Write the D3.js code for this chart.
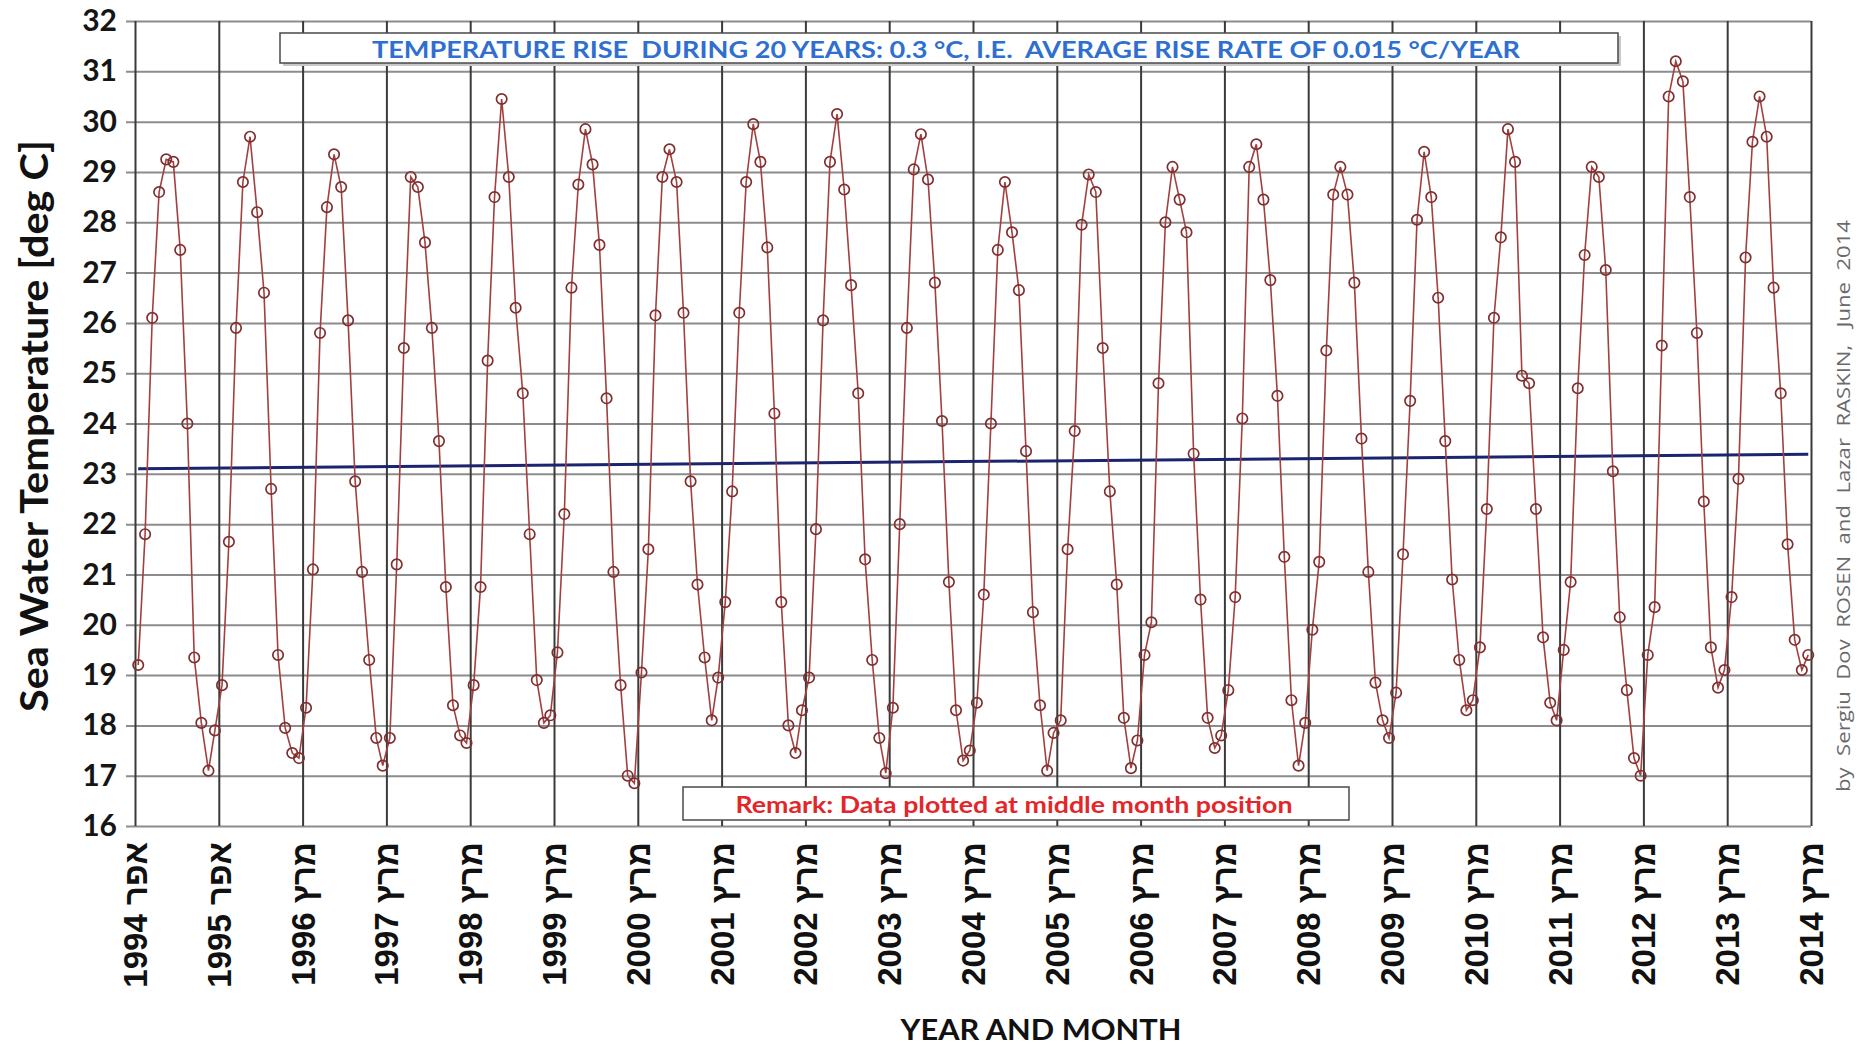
<!DOCTYPE html>
<html>
<head>
<meta charset="utf-8">
<script src="https://cdn.jsdelivr.net/npm/d3@7"></script>
<style>
  body { margin: 0; background: #fff; }
  svg { display: block; }
</style>
</head>
<body>
<svg id="chart" width="1858" height="1045"></svg>
<script>
// monthly sea water temperature, April of the first year to March of the next
const temps1994 = [19.2, 21.8, 26.1, 28.6, 29.25, 29.2, 27.45, 24.0, 19.35, 18.05, 17.1, 17.9]
const temps1995 = [18.8, 21.65, 25.9, 28.8, 29.7, 28.2, 26.6, 22.7, 19.4, 17.95, 17.45, 17.35]
const temps1996 = [18.35, 21.1, 25.8, 28.3, 29.35, 28.7, 26.05, 22.85, 21.05, 19.3, 17.75, 17.2]
const temps1997 = [17.75, 21.2, 25.5, 28.9, 28.7, 27.6, 25.9, 23.65, 20.75, 18.4, 17.8, 17.65]
const temps1998 = [18.8, 20.75, 25.25, 28.5, 30.45, 28.9, 26.3, 24.6, 21.8, 18.9, 18.05, 18.2]
const temps1999 = [19.45, 22.2, 26.7, 28.75, 29.85, 29.15, 27.55, 24.5, 21.05, 18.8, 17.0, 16.85]
const temps2000 = [19.05, 21.5, 26.15, 28.9, 29.45, 28.8, 26.2, 22.85, 20.8, 19.35, 18.1, 18.95]
const temps2001 = [20.45, 22.65, 26.2, 28.8, 29.95, 29.2, 27.5, 24.2, 20.45, 18.0, 17.45, 18.3]
const temps2002 = [18.95, 21.9, 26.05, 29.2, 30.15, 28.65, 26.75, 24.6, 21.3, 19.3, 17.75, 17.05]
const temps2003 = [18.35, 22.0, 25.9, 29.05, 29.75, 28.85, 26.8, 24.05, 20.85, 18.3, 17.3, 17.5]
const temps2004 = [18.45, 20.6, 24.0, 27.45, 28.8, 27.8, 26.65, 23.45, 20.25, 18.4, 17.1, 17.85]
const temps2005 = [18.1, 21.5, 23.85, 27.95, 28.95, 28.6, 25.5, 22.65, 20.8, 18.15, 17.15, 17.7]
const temps2006 = [19.4, 20.05, 24.8, 28.0, 29.1, 28.45, 27.8, 23.4, 20.5, 18.15, 17.55, 17.8]
const temps2007 = [18.7, 20.55, 24.1, 29.1, 29.55, 28.45, 26.85, 24.55, 21.35, 18.5, 17.2, 18.05]
const temps2008 = [19.9, 21.25, 25.45, 28.55, 29.1, 28.55, 26.8, 23.7, 21.05, 18.85, 18.1, 17.75]
const temps2009 = [18.65, 21.4, 24.45, 28.05, 29.4, 28.5, 26.5, 23.65, 20.9, 19.3, 18.3, 18.5]
const temps2010 = [19.55, 22.3, 26.1, 27.7, 29.85, 29.2, 24.95, 24.8, 22.3, 19.75, 18.45, 18.1]
const temps2011 = [19.5, 20.85, 24.7, 27.35, 29.1, 28.9, 27.05, 23.05, 20.15, 18.7, 17.35, 17.0]
const temps2012 = [19.4, 20.35, 25.55, 30.5, 31.2, 30.8, 28.5, 25.8, 22.45, 19.55, 18.75, 19.1]
const temps2013 = [20.55, 22.9, 27.3, 29.6, 30.5, 29.7, 26.7, 24.6, 21.6, 19.7, 19.1, 19.4]

const firstMonth = new Date(1994, 3, 1)
const tickStepDays = 365
const tickCount = 21
const yTicks = [16, 17, 18, 19, 20, 21, 22, 23, 24, 25, 26, 27, 28, 29, 30, 31, 32]
const hebrewShortMonths = ['ינו', 'פבר', 'מרץ', 'אפר', 'מאי', 'יונ', 'יול', 'אוג', 'ספט', 'אוק', 'נוב', 'דצמ']
const hebrewMonths = ['ינואר', 'פברואר', 'מרץ', 'אפריל', 'מאי', 'יוני', 'יולי', 'אוגוסט', 'ספטמבר', 'אוקטובר', 'נובמבר', 'דצמבר']

const yTitle = 'Sea Water Temperature [deg C]'
const xTitle = 'YEAR AND MONTH'
const riseNote = 'TEMPERATURE RISE  DURING 20 YEARS: 0.3 °C, I.E.  AVERAGE RISE RATE OF 0.015 °C/YEAR'
const remarkNote = 'Remark: Data plotted at middle month position'
const credit = 'by  Sergiu  Dov  ROSEN  and  Lazar  RASKIN,   June  2014'

const temps = [temps1994, temps1995, temps1996, temps1997, temps1998, temps1999, temps2000,
  temps2001, temps2002, temps2003, temps2004, temps2005, temps2006, temps2007, temps2008,
  temps2009, temps2010, temps2011, temps2012, temps2013].flat()

// points sit in the middle of their month
const points = temps.map((t, i) => ({
  date: d3.timeDay.offset(d3.timeMonth.offset(firstMonth, i), 14),
  temp: t
}))

// excel date axis: one label every 365 days
const tickDates = d3.range(tickCount).map((i) => d3.timeDay.offset(firstMonth, i * tickStepDays))

const heLocale = d3.timeFormatLocale({
  dateTime: '%x %X', date: '%d/%m/%Y', time: '%H:%M:%S', periods: ['AM', 'PM'],
  days: ['ראשון', 'שני', 'שלישי', 'רביעי', 'חמישי', 'שישי', 'שבת'],
  shortDays: ['א', 'ב', 'ג', 'ד', 'ה', 'ו', 'ש'],
  months: hebrewMonths,
  shortMonths: hebrewShortMonths
})
const tickFormat = heLocale.format('%Y %b')

const plotLeft = 135
const plotRight = 1811
const plotTop = 21
const plotBottom = 826

const x = d3.scaleTime()
  .domain([tickDates[0], tickDates[tickDates.length - 1]])
  .range([plotLeft, plotRight])
const y = d3.scaleLinear().domain([16, 32]).range([plotBottom, plotTop])

const svg = d3.select('#chart')

// horizontal grid + y labels
const gy = svg.append('g')
  .attr('transform', `translate(${plotLeft},0)`)
  .call(d3.axisLeft(y).tickValues(yTicks).tickSize(-(plotRight - plotLeft)).tickPadding(18))
gy.select('.domain').remove()
gy.selectAll('.tick line')
  .attr('x1', -9)
  .attr('stroke', '#8c8c8c')
  .attr('stroke-width', 2)
gy.selectAll('.tick text')
  .attr('font-family', 'Lato, sans-serif')
  .attr('font-weight', 700)
  .attr('font-size', 30)
  .attr('fill', '#151515')

// vertical grid + rotated date labels
const gx = svg.append('g')
  .attr('transform', `translate(0,${plotBottom})`)
  .call(d3.axisBottom(x).tickValues(tickDates).tickFormat(tickFormat)
    .tickSize(-(plotBottom - plotTop)).tickPadding(0))
gx.select('.domain').remove()
gx.selectAll('.tick line')
  .attr('stroke', '#3a3a3a')
  .attr('stroke-width', 2)
gx.selectAll('.tick text')
  .attr('transform', 'rotate(-90)')
  .attr('text-anchor', 'end')
  .attr('x', -16)
  .attr('y', 0)
  .attr('dy', null)
  .attr('dominant-baseline', 'central')
  .attr('font-family', '"Liberation Sans", Arial, sans-serif')
  .attr('font-weight', 700)
  .attr('font-size', 33)
  .attr('fill', '#111')

// note box at the top
svg.append('rect')
  .attr('x', 283).attr('y', 36).attr('width', 1338).attr('height', 30)
  .attr('fill', '#c8c8c8')
svg.append('rect')
  .attr('x', 280).attr('y', 33).attr('width', 1338).attr('height', 30)
  .attr('fill', '#fff').attr('stroke', '#4a4a4a').attr('stroke-width', 1.5)
svg.append('text')
  .attr('x', 946).attr('y', 49)
  .attr('text-anchor', 'middle').attr('dominant-baseline', 'central')
  .attr('textLength', 1148).attr('lengthAdjust', 'spacingAndGlyphs')
  .style('white-space', 'pre')
  .attr('font-family', 'Lato, sans-serif').attr('font-weight', 700).attr('font-size', 23)
  .attr('fill', '#2f6fd0')
  .text(riseNote)

// remark box at the bottom
svg.append('rect')
  .attr('x', 683).attr('y', 787).attr('width', 666).attr('height', 33)
  .attr('fill', '#fff').attr('stroke', '#4a4a4a').attr('stroke-width', 1.5)
svg.append('text')
  .attr('x', 1014).attr('y', 804)
  .attr('text-anchor', 'middle').attr('dominant-baseline', 'central')
  .attr('textLength', 557).attr('lengthAdjust', 'spacingAndGlyphs')
  .attr('font-family', 'Lato, sans-serif').attr('font-weight', 700).attr('font-size', 22)
  .attr('fill', '#e3262a')
  .text(remarkNote)

// linear trend (least squares over the monthly points)
const xs = points.map((p) => +p.date)
const meanX = d3.mean(xs)
const meanY = d3.mean(temps)
const slope = d3.sum(points, (p) => (+p.date - meanX) * (p.temp - meanY)) /
  d3.sum(xs, (v) => (v - meanX) * (v - meanX))
const trendAt = (d) => meanY + slope * (+d - meanX)
const trendEnds = [points[0].date, points[points.length - 1].date]

svg.append('path')
  .datum(trendEnds)
  .attr('fill', 'none')
  .attr('stroke', '#1b246e')
  .attr('stroke-width', 3)
  .attr('d', d3.line().x((d) => x(d)).y((d) => y(trendAt(d))))

// the temperature series
svg.append('path')
  .datum(points)
  .attr('fill', 'none')
  .attr('stroke', '#a2403f')
  .attr('stroke-width', 1.6)
  .attr('d', d3.line().x((d) => x(d.date)).y((d) => y(d.temp)))

svg.append('g')
  .selectAll('circle')
  .data(points)
  .join('circle')
  .attr('cx', (d) => x(d.date))
  .attr('cy', (d) => y(d.temp))
  .attr('r', 5.2)
  .attr('fill', 'none')
  .attr('stroke', '#7f2f2f')
  .attr('stroke-width', 1.7)

// titles
svg.append('text')
  .attr('transform', 'translate(33,426) rotate(-90)')
  .attr('text-anchor', 'middle').attr('dominant-baseline', 'central')
  .attr('textLength', 572).attr('lengthAdjust', 'spacingAndGlyphs')
  .attr('font-family', 'Lato, sans-serif').attr('font-weight', 700).attr('font-size', 38)
  .attr('fill', '#111')
  .text(yTitle)

svg.append('text')
  .attr('x', 1041).attr('y', 1029)
  .attr('text-anchor', 'middle').attr('dominant-baseline', 'central')
  .attr('textLength', 281).attr('lengthAdjust', 'spacingAndGlyphs')
  .attr('font-family', 'Lato, sans-serif').attr('font-weight', 700).attr('font-size', 28)
  .attr('fill', '#111')
  .text(xTitle)

svg.append('text')
  .attr('transform', 'translate(1843,506) rotate(-90)')
  .attr('text-anchor', 'middle').attr('dominant-baseline', 'central')
  .attr('textLength', 572).attr('lengthAdjust', 'spacingAndGlyphs')
  .style('white-space', 'pre')
  .attr('font-family', '"Open Sans", sans-serif').attr('font-size', 19)
  .attr('fill', '#6a6a6a')
  .text(credit)
</script>
</body>
</html>
